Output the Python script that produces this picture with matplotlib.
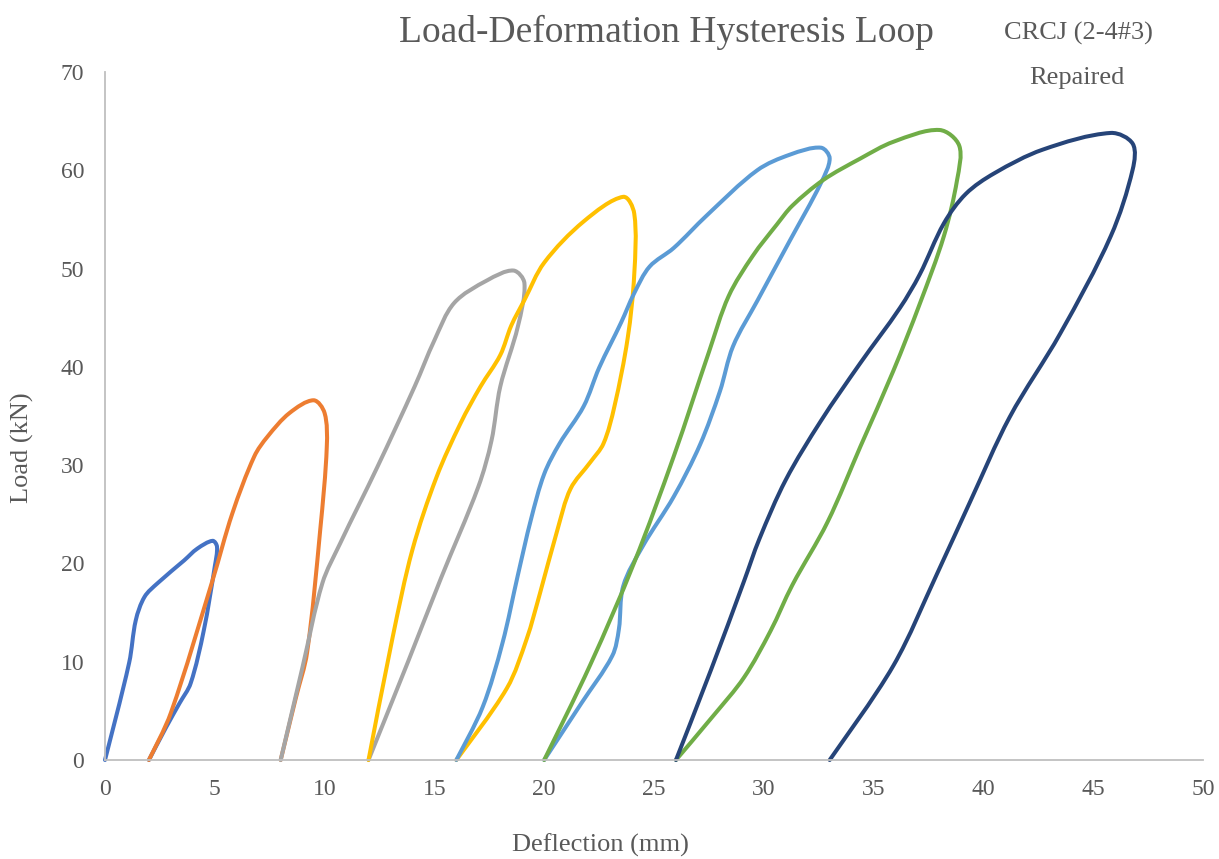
import numpy as np
import matplotlib
matplotlib.use("Agg")
import matplotlib.pyplot as plt
from matplotlib.path import Path
from matplotlib.patches import PathPatch

plt.rcParams['font.family'] = ['Liberation Serif', 'DejaVu Serif']

# Deflection (mm) / load (kN) for each loading cycle
cycle1_x = [0.0, 1.1, 1.4, 1.8, 2.4, 3.6, 4.2, 4.9, 5.1, 5.0, 4.5, 3.9, 3.4, 2.8, 2.0]
cycle1_y = [0.0, 9.9, 14.2, 16.6, 18.0, 20.3, 21.5, 22.3, 21.7, 19.7, 13.2, 7.8, 5.8, 3.4, 0.0]

cycle2_x = [2.0, 3.0, 4.9, 5.8, 6.8, 7.4, 8.4, 9.5, 10.0, 10.1, 9.8, 9.2, 8.7, 8.0]
cycle2_y = [0.0, 4.8, 18.3, 25.1, 30.9, 32.9, 35.3, 36.6, 35.3, 31.9, 23.4, 10.9, 6.4, 0.0]

cycle3_x = [8.0, 9.0, 9.9, 10.7, 12.4, 14.1, 15.0, 15.9, 17.4, 18.6, 19.1, 18.8, 18.0,
            17.6, 17.0, 15.3, 13.8, 12.0]
cycle3_y = [0.0, 9.5, 18.0, 22.0, 29.8, 38.0, 42.7, 46.5, 48.8, 49.8, 48.5, 44.1, 38.0,
            32.5, 27.8, 18.5, 10.0, 0.0]

cycle4_x = [12.0, 13.1, 14.0, 15.1, 16.2, 17.1, 18.0, 18.5, 19.1, 20.0, 21.8, 23.6, 24.1,
            24.1, 23.8, 23.2, 22.7, 22.1, 21.2, 20.6, 19.8, 19.2, 18.3, 16.0]
cycle4_y = [0.0, 12.5, 21.4, 28.8, 34.3, 38.0, 41.2, 44.2, 46.8, 50.6, 54.8, 57.3, 55.6,
            49.4, 42.9, 36.0, 32.2, 30.3, 27.6, 23.4, 16.9, 12.3, 7.3, 0.0]

cycle5_x = [16.0, 17.2, 18.1, 18.8, 19.4, 20.0, 20.7, 21.8, 22.5, 23.5, 24.1, 24.8, 25.9,
            27.4, 29.7, 31.2, 32.6, 33.0, 32.6, 31.2, 29.7, 28.6, 28.0, 27.1, 25.9, 24.5,
            23.6, 23.4, 23.1, 21.7, 20.0]
cycle5_y = [0.0, 5.4, 11.9, 18.8, 24.5, 29.1, 32.2, 36.0, 39.9, 44.5, 47.5, 50.2, 52.1,
            55.4, 60.0, 61.6, 62.3, 61.2, 58.7, 52.9, 46.7, 42.1, 37.5, 32.1, 26.8, 21.8,
            17.7, 13.3, 10.6, 5.8, 0.0]

cycle6_x = [20.0, 22.1, 24.1, 25.9, 27.5, 28.4, 29.5, 30.6, 31.3, 32.7, 34.4, 35.9, 38.0,
            38.9, 38.8, 38.2, 37.1, 35.9, 34.4, 32.9, 31.3, 30.3, 29.1, 27.7, 26.0]
cycle6_y = [0.0, 9.7, 20.1, 30.9, 41.5, 47.2, 51.3, 54.5, 56.4, 59.0, 61.2, 62.9, 64.1,
            62.5, 59.0, 53.3, 46.4, 39.6, 31.9, 24.2, 17.8, 13.1, 8.4, 4.5, 0.0]

cycle7_x = [26.0, 27.6, 29.1, 29.8, 31.0, 32.6, 34.4, 36.2, 37.1, 38.2, 39.2, 40.5, 42.7,
            45.8, 46.8, 46.8, 45.8, 43.5, 41.2, 39.4, 37.9, 35.9, 33.0]
cycle7_y = [0.0, 9.2, 18.2, 22.5, 28.5, 34.5, 40.4, 46.0, 49.4, 54.6, 57.6, 59.7, 62.1,
            63.8, 62.7, 60.1, 53.3, 43.4, 34.9, 26.3, 19.0, 9.6, 0.0]

cycles = [(cycle1_x, cycle1_y), (cycle2_x, cycle2_y), (cycle3_x, cycle3_y),
          (cycle4_x, cycle4_y), (cycle5_x, cycle5_y), (cycle6_x, cycle6_y),
          (cycle7_x, cycle7_y)]
colors = ['#4472C4', '#ED7D31', '#A5A5A5', '#FFC000', '#5B9BD5', '#70AD47', '#264478']

x_ticks = list(range(0, 51, 5))
y_ticks = list(range(0, 71, 10))


def smooth_path(xs, ys, sx=22.0, sy=9.8):
    # cubic bezier through the points, tangents weighted by on-screen segment length
    p = np.column_stack([xs, ys]).astype(float)
    n = len(p)
    seg = np.hypot(np.diff(p[:, 0]) * sx, np.diff(p[:, 1]) * sy)
    tang = np.zeros_like(p)
    for i in range(n):
        a = p[max(i - 1, 0)]
        b = p[min(i + 1, n - 1)]
        tang[i] = b - a
    verts = [p[0]]
    codes = [Path.MOVETO]
    for i in range(n - 1):
        d = seg[i]
        d_prev = seg[i - 1] if i > 0 else d
        d_next = seg[i + 1] if i + 1 < n - 1 else d
        w0 = d / (d_prev + d) if i > 0 else 0.5
        w1 = d / (d + d_next) if i + 1 < n - 1 else 0.5
        c1 = p[i] + tang[i] * w0 / 3.0
        c2 = p[i + 1] - tang[i + 1] * w1 / 3.0
        verts += [c1, c2, p[i + 1]]
        codes += [Path.CURVE4] * 3
    return Path(verts, codes)


fig = plt.figure(figsize=(12.19, 8.59), dpi=100)
ax = fig.add_axes([105 / 1219, 1 - 760 / 859, 1098 / 1219, 688 / 859])

for (xs, ys), c in zip(cycles, colors):
    patch = PathPatch(smooth_path(xs, ys), facecolor='none', edgecolor=c, lw=2.9,
                      capstyle='round', joinstyle='round', clip_on=False)
    ax.add_patch(patch)

ax.set_xlim(0, 50)
ax.set_ylim(0, 70)
ax.set_xticks(x_ticks)
ax.set_yticks(y_ticks)
ax.tick_params(length=0, labelsize=17, labelcolor='#595959')
ax.tick_params(axis='x', pad=14)
ax.tick_params(axis='y', pad=15)
for s in ['top', 'right']:
    ax.spines[s].set_visible(False)
for s in ['left', 'bottom']:
    ax.spines[s].set_color('#BFBFBF')
    ax.spines[s].set_linewidth(1.3)

txt = '#595959'
fig.text(666 / 1219, 1 - 32 / 859, 'Load-Deformation Hysteresis Loop', ha='center',
         va='center', fontsize=27, color=txt)
fig.text(1078 / 1219, 1 - 33 / 859, 'CRCJ (2-4#3)', ha='center', va='center',
         fontsize=19, color=txt)
fig.text(1077 / 1219, 1 - 78 / 859, 'Repaired', ha='center', va='center',
         fontsize=19, color=txt)
fig.text(600 / 1219, 1 - 845 / 859, 'Deflection (mm)', ha='center', va='center',
         fontsize=19, color=txt)
fig.text(22 / 1219, 1 - 448 / 859, 'Load (kN)', ha='center', va='center',
         rotation=90, fontsize=19, color=txt)

fig.savefig('out.png', dpi=100, facecolor='white')
